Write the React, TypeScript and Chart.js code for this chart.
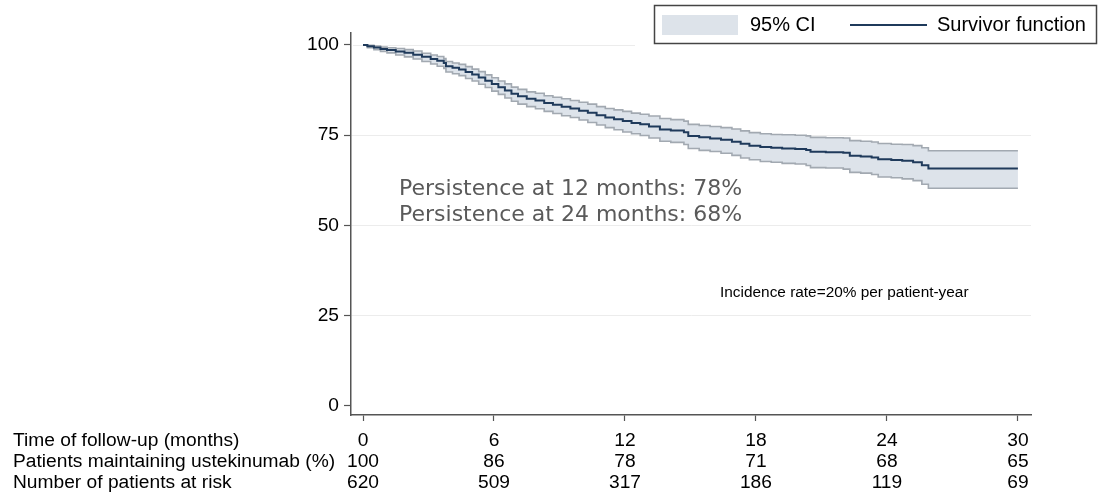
import { useEffect, useRef } from 'react';
import { Chart, registerables } from 'chart.js';

Chart.register(...registerables);

// ---- data ----
const tickMonths = [0, 6, 12, 18, 24, 30];
const pctMaintaining = ['100', '86', '78', '71', '68', '65'];
const atRisk = ['620', '509', '317', '186', '119', '69'];
const yTicks = [0, 25, 50, 75, 100];
const rowHeaders = [
  'Time of follow-up (months)',
  'Patients maintaining ustekinumab (%)',
  'Number of patients at risk',
];

const times = [
  0, 0.2, 0.5, 0.8, 1.1, 1.5, 1.9, 2.3, 2.7, 3.1,
  3.4, 3.7, 3.8, 4.1, 4.4, 4.7, 5.0, 5.3, 5.6, 5.9,
  6.2, 6.5, 6.8, 7.1, 7.5, 7.9, 8.3, 8.7, 9.1, 9.5,
  9.9, 10.3, 10.7, 11.1, 11.5, 11.9, 12.3, 12.7, 13.1, 13.6,
  14.1, 14.7, 14.9, 15.4, 15.9, 16.4, 16.9, 17.3, 17.7, 18.2,
  18.7, 19.2, 19.8, 20.3, 20.5, 21.2, 22.0, 22.3, 22.8, 23.3,
  23.6, 24.2, 24.7, 25.2, 25.6, 25.9, 30.0,
];
const survivor = [
  100, 99.6, 99.3, 98.9, 98.6, 98.2, 97.8, 97.3, 96.7, 96.1,
  95.6, 95.0, 94.1, 93.7, 93.2, 92.5, 91.8, 91.0, 90.1, 89.2,
  88.3, 87.4, 86.5, 85.8, 85.1, 84.6, 83.9, 83.4, 82.9, 82.4,
  81.8, 81.2, 80.5, 79.9, 79.4, 78.9, 78.4, 78.0, 77.4, 76.6,
  76.3, 75.8, 74.8, 74.4, 74.1, 73.7, 73.2, 72.6, 72.1, 71.7,
  71.5, 71.3, 71.2, 70.9, 70.4, 70.3, 70.1, 69.3, 69.1, 68.8,
  68.3, 68.1, 67.9, 67.5, 66.7, 65.8, 65.8,
];
const ciUpper = [
  100, 99.9, 99.7, 99.4, 99.2, 99.0, 98.7, 98.3, 97.7, 97.2,
  96.8, 96.2, 95.4, 95.0, 94.6, 94.0, 93.3, 92.6, 91.7, 90.9,
  90.0, 89.2, 88.3, 87.7, 87.0, 86.6, 85.9, 85.5, 85.1, 84.6,
  84.1, 83.6, 82.9, 82.4, 82.0, 81.6, 81.1, 80.8, 80.3, 79.6,
  79.3, 78.9, 78.0, 77.7, 77.4, 77.1, 76.7, 76.2, 75.7, 75.4,
  75.2, 75.1, 75.0, 74.8, 74.4, 74.3, 74.2, 73.5, 73.3, 73.1,
  72.7, 72.5, 72.4, 72.1, 71.5, 70.7, 70.7,
];
const ciLower = [
  100, 99.2, 98.7, 98.2, 97.8, 97.2, 96.7, 96.1, 95.4, 94.7,
  94.1, 93.5, 92.5, 92.0, 91.5, 90.7, 90.0, 89.1, 88.2, 87.2,
  86.3, 85.3, 84.4, 83.6, 82.9, 82.3, 81.6, 81.0, 80.4, 79.9,
  79.2, 78.5, 77.8, 77.1, 76.5, 75.9, 75.4, 74.9, 74.2, 73.3,
  73.0, 72.4, 71.3, 70.8, 70.5, 70.0, 69.4, 68.7, 68.2, 67.7,
  67.5, 67.2, 67.0, 66.6, 66.0, 65.9, 65.6, 64.7, 64.5, 64.1,
  63.4, 63.2, 62.9, 62.4, 61.4, 60.3, 60.3,
];

const annotationLines = ['Persistence at 12 months: 78%', 'Persistence at 24 months: 68%'];
const incidenceNote = 'Incidence rate=20% per patient-year';
const legendLabels = ['95% CI', 'Survivor function'];

// ---- styles ----
const FONT = '"Liberation Sans", Arial, sans-serif';
const LINE = '#1f3a5b';
const EDGE = '#a2a9b1';
const BAND = '#dde3ea';
const AXIS = '#555555';
const GRID = '#ececec';
const TICK_LEN = 6;
const TICK_PAD = 9;
const ROW_H = 21;
const TABLE_FONT = 19.2;

const decorPlugin = {
  id: 'decor',
  beforeDatasetsDraw(chart: any) {
    const ctx = chart.ctx;
    const ys = chart.scales.y;
    const ca = chart.chartArea;
    const y100 = Math.round(ys.getPixelForValue(100)) + 0.5;
    ctx.save();
    ctx.strokeStyle = GRID;
    ctx.lineWidth = 1;
    ctx.beginPath();
    ctx.moveTo(ca.left + 2, y100);
    ctx.lineTo(635, y100);
    ctx.stroke();
    ctx.restore();
  },
  afterDraw(chart: any) {
    const ctx = chart.ctx;
    const xs = chart.scales.x;
    ctx.save();
    // row headers of the at-risk table
    ctx.font = `${TABLE_FONT}px ${FONT}`;
    ctx.fillStyle = '#000';
    ctx.textAlign = 'left';
    ctx.textBaseline = 'middle';
    const y0 = xs.top + TICK_LEN + TICK_PAD + ROW_H / 2;
    rowHeaders.forEach((t, i) => ctx.fillText(t, 13, y0 + i * ROW_H));

    // legend
    ctx.fillStyle = '#fff';
    ctx.fillRect(654, 5, 442, 38);
    ctx.strokeStyle = '#444';
    ctx.lineWidth = 1.5;
    ctx.strokeRect(654.5, 5.5, 442, 38);
    ctx.fillStyle = BAND;
    ctx.fillRect(662, 15, 76, 20);
    ctx.font = `20px ${FONT}`;
    ctx.fillStyle = '#000';
    ctx.fillText(legendLabels[0], 750, 25);
    ctx.strokeStyle = LINE;
    ctx.lineWidth = 2;
    ctx.beginPath();
    ctx.moveTo(850, 25);
    ctx.lineTo(927, 25);
    ctx.stroke();
    ctx.fillText(legendLabels[1], 937, 25);

    // annotations
    ctx.font = '22px "DejaVu Sans", Verdana, sans-serif';
    ctx.fillStyle = '#5a5a5a';
    ctx.fillText(annotationLines[0], 399, 189);
    ctx.fillText(annotationLines[1], 399, 215);
    ctx.font = `15.4px ${FONT}`;
    ctx.fillStyle = '#000';
    ctx.fillText(incidenceNote, 720, 293);
    ctx.restore();
  },
};

export default function App() {
  const ref = useRef<HTMLCanvasElement | null>(null);

  useEffect(() => {
    if (!ref.current) return;
    const pts = (vals: number[]) => times.map((t, i) => ({ x: t, y: vals[i] }));
    const chart = new Chart(ref.current, {
      type: 'line',
      data: {
        datasets: [
          {
            label: legendLabels[1],
            data: pts(survivor),
            borderColor: LINE,
            borderWidth: 2,
            stepped: true,
            pointRadius: 0,
            fill: false,
          },
          {
            label: 'CI upper',
            data: pts(ciUpper),
            borderColor: EDGE,
            borderWidth: 1.6,
            stepped: true,
            pointRadius: 0,
            fill: false,
          },
          {
            label: 'CI lower',
            data: pts(ciLower),
            borderColor: EDGE,
            borderWidth: 1.6,
            stepped: true,
            pointRadius: 0,
            fill: '-1',
            backgroundColor: BAND,
          },
        ],
      },
      options: {
        responsive: false,
        animation: false,
        devicePixelRatio: 1,
        layout: { padding: { left: 0, right: 68, top: 33, bottom: 0 } },
        plugins: { legend: { display: false }, tooltip: { enabled: false } },
        scales: {
          x: {
            type: 'linear',
            min: -0.55,
            max: 30.6,
            afterBuildTicks: (s: any) => {
              s.ticks = tickMonths.map((v) => ({ value: v }));
            },
            afterFit: (s: any) => {
              s.height = 77;
            },
            grid: {
              drawOnChartArea: false,
              drawTicks: true,
              tickLength: TICK_LEN,
              tickColor: AXIS,
              tickWidth: 1.2,
            },
            border: { color: AXIS, width: 1.5 },
            ticks: {
              autoSkip: false,
              maxRotation: 0,
              minRotation: 0,
              padding: TICK_PAD,
              color: '#000',
              font: { family: FONT, size: TABLE_FONT, lineHeight: `${ROW_H}px` },
              callback: (_v: any, i: number) => [String(tickMonths[i]), pctMaintaining[i], atRisk[i]],
            },
          },
          y: {
            min: -2.5,
            max: 103.3,
            afterBuildTicks: (s: any) => {
              s.ticks = yTicks.map((v) => ({ value: v }));
            },
            afterFit: (s: any) => {
              s.width = 351;
            },
            grid: {
              color: (c: any) =>
                c.tick && (c.tick.value === 0 || c.tick.value === 100) ? 'rgba(0,0,0,0)' : GRID,
              lineWidth: 1,
              drawTicks: true,
              tickLength: 7,
              tickColor: AXIS,
              tickWidth: 1.2,
            },
            border: { color: AXIS, width: 1.5 },
            ticks: {
              padding: 5,
              color: '#000',
              font: { family: FONT, size: TABLE_FONT },
            },
          },
        },
      },
      plugins: [decorPlugin],
    } as any);
    return () => chart.destroy();
  }, []);

  return (
    <div style={{ position: 'fixed', left: 0, top: 0, width: 1099, height: 492, background: '#fff' }}>
      <canvas ref={ref} width={1099} height={492} style={{ display: 'block' }} />
    </div>
  );
}
